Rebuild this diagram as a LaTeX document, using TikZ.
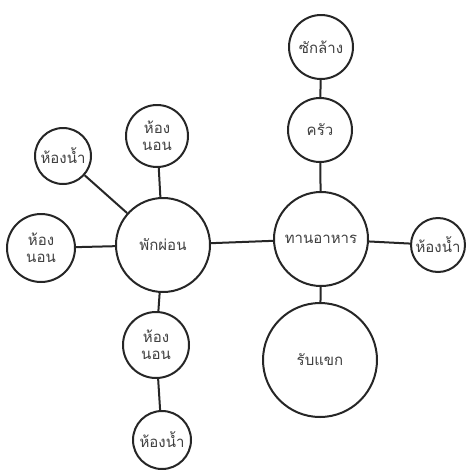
\documentclass[tikz,border=0pt]{standalone}
\usepackage{fontspec}
\newfontfamily\thaifont[Script=Thai]{Loma}
\begin{document}
\begin{tikzpicture}[x=1pt,y=-1pt,
  room/.style={circle,draw=black!85,line width=2pt,fill=white,inner sep=0pt,
    font=\thaifont\fontsize{15}{17}\selectfont,text=black!75,align=center},
  link/.style={draw=black!85,line width=2pt}]
\useasboundingbox (0,0) rectangle (470,469);
\node[room,minimum size=64] (wash) at (321,47) {ซักล้าง};
\node[room,minimum size=64] (kitchen) at (320,130) {ครัว};
\node[room,minimum size=94] (dine) at (321,239) {ทานอาหาร};
\node[room,minimum size=54] (bathR) at (438,245) {ห้องน้ำ};
\node[room,minimum size=114] (guest) at (320,360) {รับแขก};
\node[room,minimum size=94] (rest) at (163,245) {พักผ่อน};
\node[room,minimum size=62] (bedT) at (157,136) {ห้อง\\นอน};
\node[room,minimum size=56] (bathTL) at (63,156) {ห้องน้ำ};
\node[room,minimum size=68] (bedL) at (41,248) {ห้อง\\นอน};
\node[room,minimum size=66] (bedB) at (156,345) {ห้อง\\นอน};
\node[room,minimum size=58] (bathB) at (162,440) {ห้องน้ำ};
\draw[link] (wash) -- (kitchen);
\draw[link] (kitchen) -- (dine);
\draw[link] (dine) -- (bathR);
\draw[link] (dine) -- (guest);
\draw[link] (rest) -- (dine);
\draw[link] (rest) -- (bedT);
\draw[link] (rest) -- (bathTL);
\draw[link] (rest) -- (bedL);
\draw[link] (rest) -- (bedB);
\draw[link] (bedB) -- (bathB);
\end{tikzpicture}
\end{document}
